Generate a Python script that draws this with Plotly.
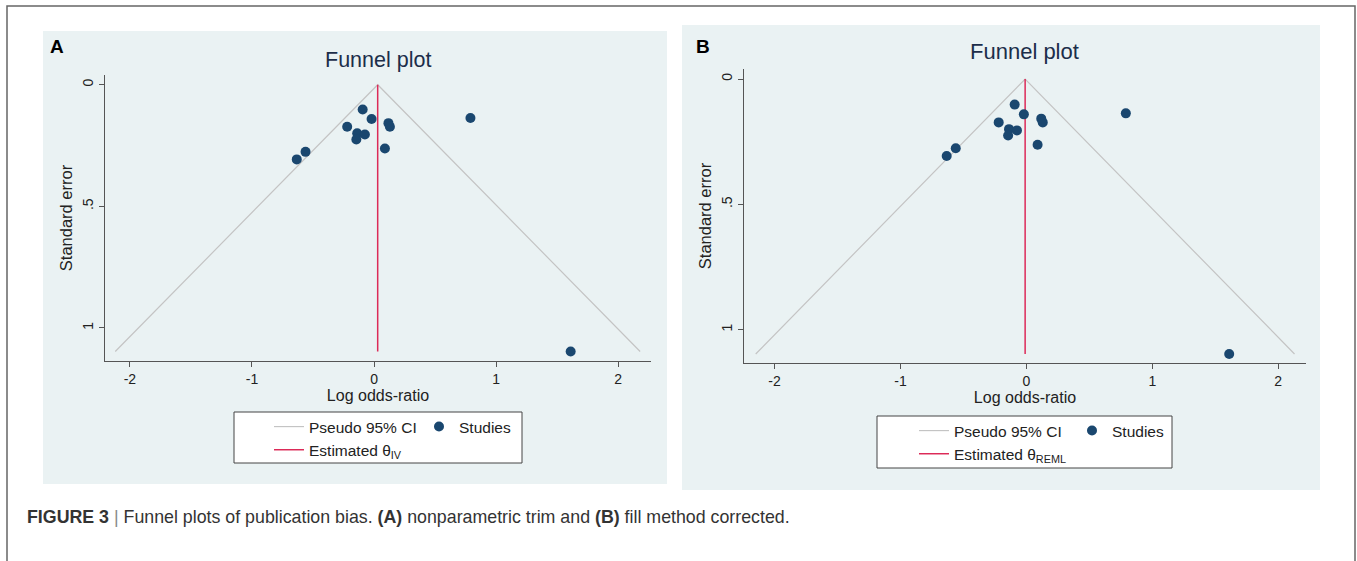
import plotly.graph_objects as go

W, H = 1357, 561

# ---- data ----
log_or = [0.79, -0.093, -0.02, -0.22, -0.138, -0.075, -0.145, 0.118, 0.13, 0.089, -0.561, -0.633, 1.611]
std_err = [0.137, 0.102, 0.141, 0.173, 0.200, 0.205, 0.225, 0.158, 0.173, 0.262, 0.276, 0.307, 1.097]

theta_a = [0.03, 0.03]
theta_b = [-0.01, -0.01]
theta_se = [0.0, 1.097]
ci_a_x = [-2.12, 0.03, 2.18]
ci_b_x = [-2.15, -0.01, 2.13]
ci_se = [1.097, 0.0, 1.097]

x_ticks = [-2, -1, 0, 1, 2]
x_tick_labels = ["-2", "-1", "0", "1", "2"]
y_ticks = [0, 0.5, 1]
y_tick_labels = ["0", ".5", "1"]

FONT = "Liberation Sans, Arial, sans-serif"
NAVY = "#1a476f"
RED = "#dc2a58"
GREY = "#c4c4c4"
BG = "#eaf2f3"


def px(x):
    return x / W


def py(y):
    return 1 - y / H


fig = go.Figure()

panels = [
    dict(xa="x", ya="y", ci=ci_a_x, th=theta_a, sub="IV", lg1="legend", lg2="legend2"),
    dict(xa="x2", ya="y2", ci=ci_b_x, th=theta_b, sub="REML", lg1="legend3", lg2="legend4"),
]

for p in panels:
    fig.add_trace(go.Scatter(
        x=p["ci"], y=ci_se, mode="lines", name="Pseudo 95% CI",
        line=dict(color=GREY, width=1.2), xaxis=p["xa"], yaxis=p["ya"],
        legend=p["lg1"], hoverinfo="skip"))
    fig.add_trace(go.Scatter(
        x=p["th"], y=theta_se, mode="lines",
        name="Estimated θ<sub>" + p["sub"] + "</sub>",
        line=dict(color=RED, width=1.5), xaxis=p["xa"], yaxis=p["ya"],
        legend=p["lg1"]))
    fig.add_trace(go.Scatter(
        x=log_or, y=std_err, mode="markers", name="Studies",
        marker=dict(color=NAVY, size=10), xaxis=p["xa"], yaxis=p["ya"],
        legend=p["lg2"]))

axis_common = dict(
    showline=True, linecolor="#555555", linewidth=1,
    ticks="outside", ticklen=5, tickcolor="#555555", tickwidth=1,
    tickfont=dict(family=FONT, size=14, color="#222222"),
    zeroline=False, automargin=False,
)

xtitle = dict(text="Log odds-ratio", font=dict(family=FONT, size=16, color="#222222"), standoff=3)
ytitle = dict(text="Standard error", font=dict(family=FONT, size=16.5, color="#222222"), standoff=3)

fig.update_layout(
    width=W, height=H,
    margin=dict(l=0, r=0, t=0, b=0),
    paper_bgcolor="white", plot_bgcolor="white",
    font=dict(family=FONT, color="#222222"),
    xaxis=dict(domain=[px(105), px(651)], range=[-2.204, 2.269], anchor="y",
               tickvals=x_ticks, ticktext=x_tick_labels, showgrid=False,
               title=xtitle, **axis_common),
    yaxis=dict(domain=[py(361), py(75)], range=[1.136, -0.04], anchor="x",
               tickvals=y_ticks, ticktext=y_tick_labels, tickangle=-90,
               showgrid=True, gridcolor=BG, gridwidth=1,
               title=ytitle, **axis_common),
    xaxis2=dict(domain=[px(744), px(1306)], range=[-2.243, 2.221], anchor="y2",
                tickvals=x_ticks, ticktext=x_tick_labels, showgrid=False,
                title=xtitle, **axis_common),
    yaxis2=dict(domain=[py(363), py(69)], range=[1.133, -0.04], anchor="x2",
                tickvals=y_ticks, ticktext=y_tick_labels, tickangle=-90,
                showgrid=True, gridcolor=BG, gridwidth=1,
                title=ytitle, **axis_common),
    showlegend=True,
)

leg_common = dict(bgcolor="rgba(0,0,0,0)", borderwidth=0,
                  font=dict(family=FONT, size=15.5, color="#222222"),
                  xanchor="left", yanchor="top", orientation="v",
                  tracegroupgap=0, itemclick=False, itemdoubleclick=False)
fig.update_layout(
    legend=dict(x=px(269), y=py(410), **leg_common),
    legend2=dict(x=px(419), y=py(410), **leg_common),
    legend3=dict(x=px(914), y=py(414), **leg_common),
    legend4=dict(x=px(1072), y=py(414), **leg_common),
)

shapes = [
    # outer frame
    dict(type="rect", xref="paper", yref="paper", x0=px(7), x1=px(1355), y0=-0.05, y1=py(6),
         line=dict(color="#666666", width=1.5), fillcolor="rgba(0,0,0,0)", layer="below"),
    # panel backgrounds
    dict(type="rect", xref="paper", yref="paper", x0=px(43), x1=px(667), y0=py(484), y1=py(31),
         line=dict(width=0), fillcolor=BG, layer="below"),
    dict(type="rect", xref="paper", yref="paper", x0=px(682), x1=px(1320), y0=py(490), y1=py(25),
         line=dict(width=0), fillcolor=BG, layer="below"),
    # legend boxes
    dict(type="rect", xref="paper", yref="paper", x0=px(234), x1=px(522), y0=py(463), y1=py(412),
         line=dict(color="#444444", width=1), fillcolor="white", layer="below"),
    dict(type="rect", xref="paper", yref="paper", x0=px(877), x1=px(1172), y0=py(468), y1=py(416),
         line=dict(color="#444444", width=1), fillcolor="white", layer="below"),
]
fig.update_layout(shapes=shapes)

ann = [
    dict(text="<b>A</b>", x=px(57), y=py(47), font=dict(family=FONT, size=19, color="black")),
    dict(text="<b>B</b>", x=px(703), y=py(46), font=dict(family=FONT, size=19, color="black")),
    dict(text="Funnel plot", x=px(378), y=py(60), font=dict(family=FONT, size=21.5, color="#1c2e4a")),
    dict(text="Funnel plot", x=px(1024), y=py(52), font=dict(family=FONT, size=22, color="#1c2e4a")),
]
for a in ann:
    a.update(xref="paper", yref="paper", showarrow=False, xanchor="center", yanchor="middle")
ann.append(dict(
    text="<b>FIGURE 3</b> <span style='color:#888'>|</span> Funnel plots of publication bias. "
         "<b>(A)</b> nonparametric trim and <b>(B)</b> fill method corrected.",
    x=px(25), y=py(517), xref="paper", yref="paper", showarrow=False,
    xanchor="left", yanchor="middle",
    font=dict(family=FONT, size=17.8, color="#333333")))
fig.update_layout(annotations=ann)

fig.write_html("out.html", config={"displayModeBar": False},
               post_script="document.body.style.margin='0px';")
